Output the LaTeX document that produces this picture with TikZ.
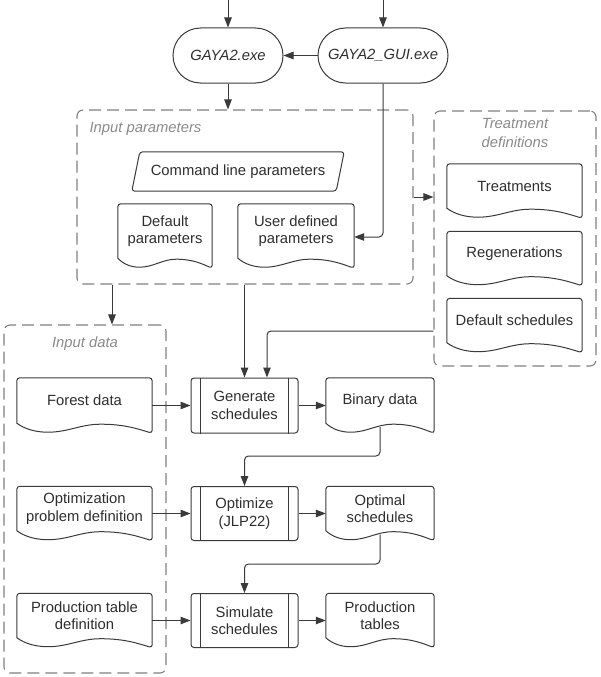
\documentclass[tikz,border=0pt]{standalone}
\usepackage{fontspec}
\setmainfont{Liberation Sans}
\usetikzlibrary{arrows.meta,calc}
\definecolor{linec}{HTML}{3A3A3A}
\definecolor{dashc}{HTML}{808080}
\definecolor{labc}{HTML}{8A8A8A}
\definecolor{txtc}{HTML}{2E2E2E}
\newcommand\docoutline[1]{%
 \draw[shp] let \p1=(#1.north west), \p2=(#1.south east), \n1={\x2-\x1} in
 [rounded corners=3pt] (\x1,\y2) -- (\x1,\y1) -- (\x2,\y1) -- (\x2,\y2-10pt)
 [sharp corners] .. controls (\x1+0.9*\n1,\y2-6pt) and (\x1+0.8*\n1,\y2-1pt) .. (\x1+0.62*\n1,\y2-1pt)
 .. controls (\x1+0.47*\n1,\y2-1pt) and (\x1+0.38*\n1,\y2-9pt) .. (\x1+0.23*\n1,\y2-9pt)
 .. controls (\x1+0.14*\n1,\y2-9pt) and (\x1+0.06*\n1,\y2-6pt) .. (\x1,\y2) -- cycle;}
\newcommand\procbars[1]{%
 \draw[shp] ([xshift=10pt]#1.north west) -- ([xshift=10pt]#1.south west);
 \draw[shp] ([xshift=-10pt]#1.north east) -- ([xshift=-10pt]#1.south east);}
\begin{document}
\begin{tikzpicture}[x=1pt,y=-1pt,
  every node/.style={font=\fontsize{14.8}{17.5}\selectfont, text=txtc},
  shp/.style={draw=linec, line width=1pt},
  arr/.style={draw=linec, line width=1pt, -{Triangle[length=10pt,width=7.5pt]}},
  dbox/.style={draw=dashc, line width=1.1pt, dash pattern=on 12pt off 6pt, rounded corners=6pt},
  lbl/.style={font=\fontsize{14.8}{19}\selectfont\itshape, text=labc},
  docn/.style={inner sep=0pt, align=center},
  procn/.style={shp, rounded corners=3pt, inner sep=0pt, align=center, minimum width=107pt},
  termn/.style={shp, rounded corners=27.5pt, minimum height=55pt, inner sep=0pt, font=\fontsize{14.8}{17.5}\selectfont\itshape},
]
\useasboundingbox (0,0) rectangle (600,677);

% terminators
\node[termn, minimum width=110pt] (gaya) at (228,55.5) {GAYA2.exe};
\node[termn, minimum width=130pt] (gui) at (383,55.5) {GAYA2\_GUI.exe};
\coordinate (s1) at (228,0);
\coordinate (s2) at (383,0);

% dashed groups
\node[dbox, minimum width=336pt, minimum height=174pt] (ip) at (245,197) {};
\node[lbl, anchor=west] (iplab) at (86,129) {Input parameters};
\node[dbox, minimum width=162pt, minimum height=255pt] (td) at (515,238.5) {};
\node[lbl, align=center] (tdlab) at (515,133) {Treatment\\definitions};
\node[dbox, minimum width=162pt, minimum height=348pt] (id) at (85,499) {};
\node[lbl] (idlab) at (85,344) {Input data};

% input parameters content
\node[inner sep=0pt, minimum width=212pt, minimum height=39pt] (cmd) at (238,171.5) {Command line parameters};
\draw[shp, rounded corners=3pt] ([xshift=8pt]cmd.north west) -- (cmd.north east) -- ([xshift=-8pt]cmd.south east) -- (cmd.south west) -- cycle;
\node[docn, minimum width=94pt, minimum height=54pt] (defp) at (165,231) {Default\\parameters};
\docoutline{defp}
\node[docn, minimum width=116pt, minimum height=54pt] (userp) at (296,231) {User defined\\parameters};
\docoutline{userp}

% treatment definitions content
\node[docn, minimum width=135pt, minimum height=44pt] (treat) at (514.5,186) {Treatments};
\docoutline{treat}
\node[docn, minimum width=135pt, minimum height=44pt] (regen) at (514.5,253.5) {Regenerations};
\docoutline{regen}
\node[docn, minimum width=135pt, minimum height=44pt] (defs) at (514.5,320.5) {Default schedules};
\docoutline{defs}

% input data docs
\node[docn, minimum width=135pt, minimum height=45pt] (forest) at (84.5,400.5) {Forest data};
\docoutline{forest}
\node[docn, minimum width=135pt, minimum height=44pt] (optd) at (84.5,508.5) {Optimization\\problem definition};
\docoutline{optd}
\node[docn, minimum width=135pt, minimum height=44pt] (prodd) at (84.5,615.5) {Production table\\definition};
\docoutline{prodd}

% processes
\node[procn, minimum height=55pt] (gen) at (244.5,405.5) {Generate\\schedules};
\procbars{gen}
\node[procn, minimum height=54pt] (opt) at (244.5,513.5) {Optimize\\(JLP22)};
\procbars{opt}
\node[procn, minimum height=54pt] (sim) at (244.5,620.5) {Simulate\\schedules};
\procbars{sim}

% outputs
\node[docn, minimum width=108pt, minimum height=45pt] (bin) at (380,400.5) {Binary data};
\docoutline{bin}
\node[docn, minimum width=108pt, minimum height=44pt] (opts) at (380,508.5) {Optimal\\schedules};
\docoutline{opts}
\node[docn, minimum width=108pt, minimum height=44pt] (prodt) at (380,615.5) {Production\\tables};
\docoutline{prodt}

% helper coordinates
\coordinate (k0) at (0,237);
\coordinate (k1) at (112,0);
\coordinate (k2) at (267,331);
\coordinate (k3) at (0,456);
\coordinate (k4) at (0,564);
\coordinate (k5) at (0,197);

% connectors
\draw[arr] (s1) -- (gaya.north);
\draw[arr] (s2) -- (gui.north);
\draw[arr] (gui.west) -- (gaya.east);
\draw[arr] (gaya.south) -- (gaya.south |- ip.north);
\draw[arr, rounded corners=4pt] (gui.south) |- (userp.east |- k0);
\draw[arr] (ip.east |- k5) -- (td.west |- k5);
\draw[arr] (ip.south -| k1) -- (id.north -| k1);
\draw[arr] (ip.south -| gen.north) -- (gen.north);
\draw[arr, rounded corners=4pt] (td.west |- k2) -| (gen.north -| k2);
\draw[arr] (forest.east |- gen.west) -- (gen.west);
\draw[arr] (gen.east) -- (bin.west |- gen.east);
\draw[arr, rounded corners=4pt] ([yshift=-4pt]bin.south) -- (bin.south |- k3) -| (opt.north);
\draw[arr] (optd.east |- opt.west) -- (opt.west);
\draw[arr] (opt.east) -- (opts.west |- opt.east);
\draw[arr, rounded corners=4pt] ([yshift=-4pt]opts.south) -- (opts.south |- k4) -| (sim.north);
\draw[arr] (prodd.east |- sim.west) -- (sim.west);
\draw[arr] (sim.east) -- (prodt.west |- sim.east);
\end{tikzpicture}
\end{document}
